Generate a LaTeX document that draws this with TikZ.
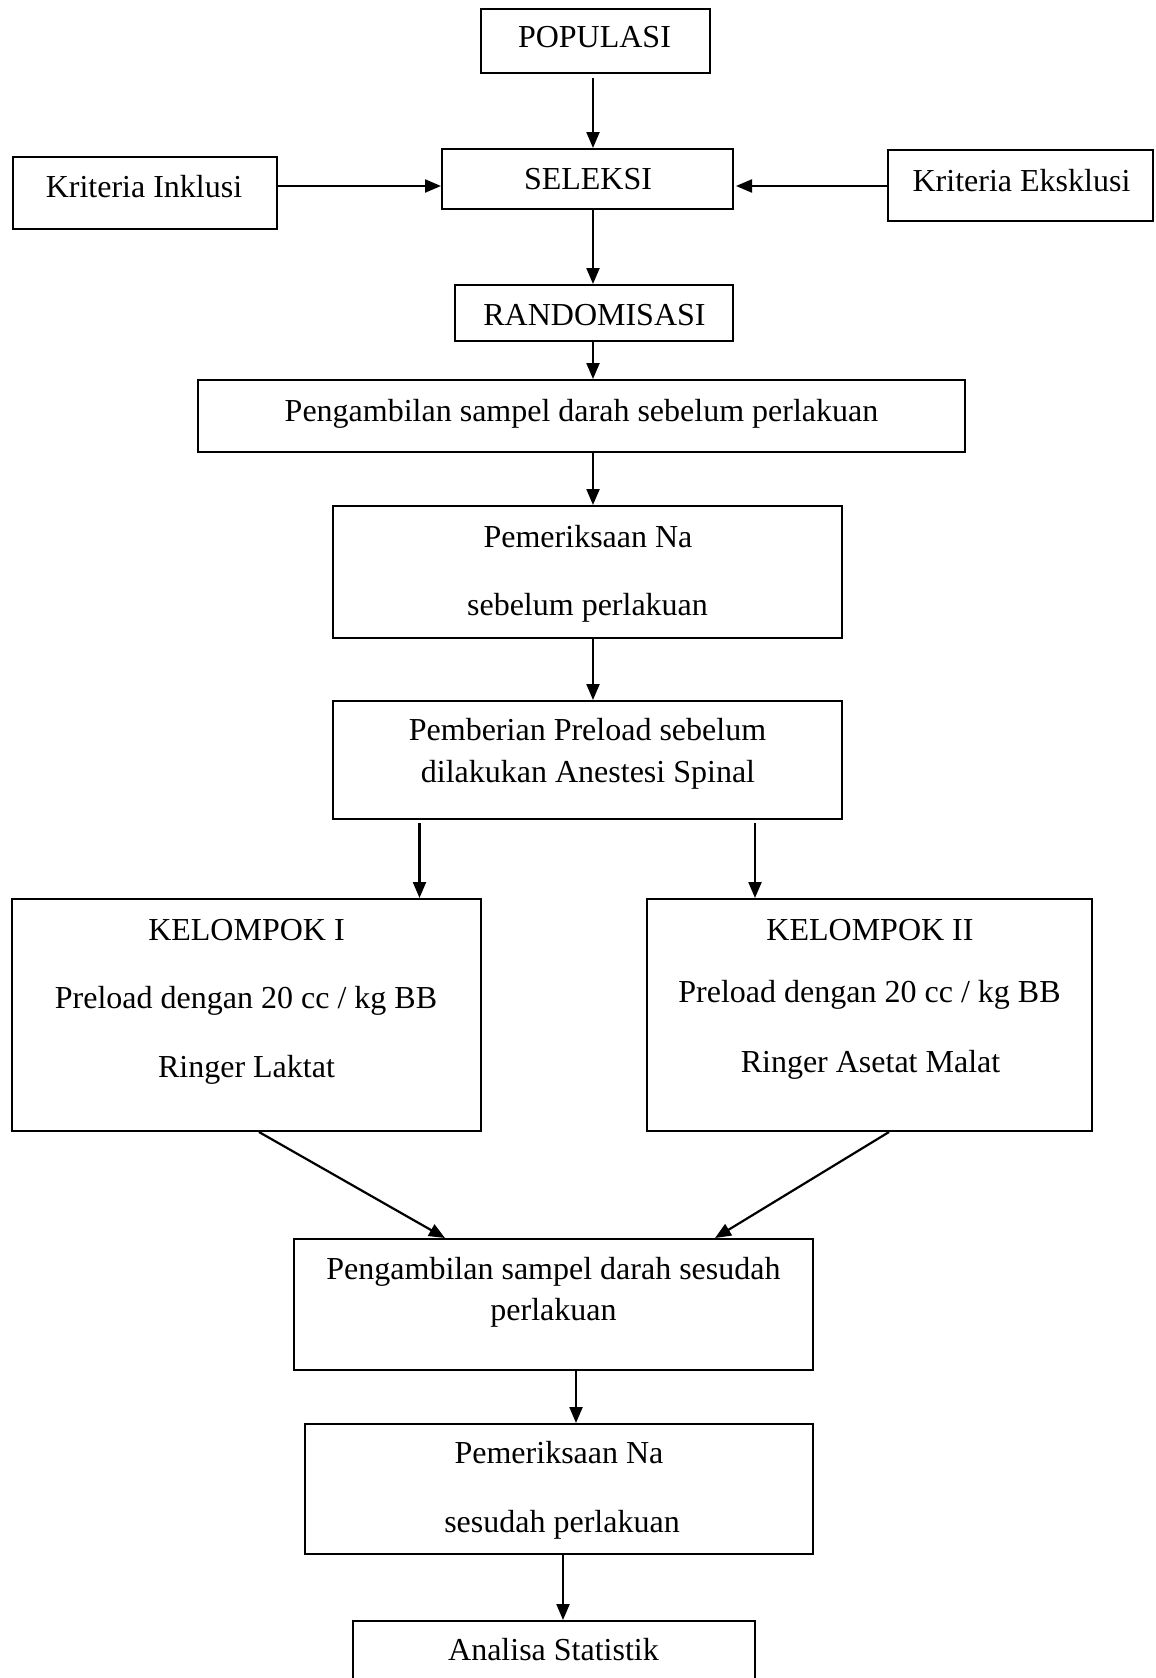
\documentclass[tikz,border=0pt]{standalone}
\usepackage{fontspec}
\setmainfont{Liberation Serif}
\usetikzlibrary{arrows.meta}
\begin{document}
\begin{tikzpicture}[x=1pt,y=-1pt,
  box/.style={draw,line width=2pt,inner sep=0pt,rectangle},
  lbl/.style={anchor=base,inner sep=0pt,font=\fontsize{32}{38}\selectfont},
  arr/.style={line width=2.2pt,-{Triangle[length=16pt,width=13pt]}}]
\clip (0,0) rectangle (1156,1678);
\fill[white] (0,0) rectangle (1156,1678);
% boxes
\node[box,minimum width=229pt,minimum height=64pt] (pop) at (595.5,41) {};
\node[box,minimum width=291pt,minimum height=60pt] (sel) at (587.5,179) {};
\node[box,minimum width=264pt,minimum height=72pt] (inkl) at (144.5,192.5) {};
\node[box,minimum width=265pt,minimum height=71pt] (eks) at (1020.5,185) {};
\node[box,minimum width=278pt,minimum height=56pt] (rand) at (593.5,313) {};
\node[box,minimum width=767pt,minimum height=72pt] (samp1) at (581,416) {};
\node[box,minimum width=509pt,minimum height=132pt] (na1) at (587.5,572) {};
\node[box,minimum width=509pt,minimum height=118pt] (pre) at (587.5,760) {};
\node[box,minimum width=469pt,minimum height=232pt] (k1) at (246.5,1015) {};
\node[box,minimum width=445pt,minimum height=232pt] (k2) at (869.5,1015) {};
\node[box,minimum width=519pt,minimum height=131pt] (samp2) at (553.5,1304.5) {};
\node[box,minimum width=508pt,minimum height=130pt] (na2) at (559,1489) {};
\node[box,minimum width=402pt,minimum height=80pt] (ana) at (554,1661) {};
% texts
\node[lbl] (tpop) at (594.5,48) {POPULASI};
\node[lbl] (tsel) at (588,189) {SELEKSI};
\node[lbl] (tinkl) at (144,197) {Kriteria Inklusi};
\node[lbl] (teks) at (1021.5,191) {Kriteria Eksklusi};
\node[lbl] (trand) at (594.5,325) {RANDOMISASI};
\node[lbl] (tsamp1) at (581.5,421) {Pengambilan sampel darah sebelum perlakuan};
\node[lbl] (tna1a) at (588,547) {Pemeriksaan Na};
\node[lbl] (tna1b) at (587.5,615) {sebelum perlakuan};
\node[lbl] (tprea) at (587.5,740) {Pemberian Preload sebelum};
\node[lbl] (tpreb) at (588,782) {dilakukan Anestesi Spinal};
\node[lbl] (tk1a) at (246.5,940) {KELOMPOK I};
\node[lbl] (tk1b) at (246,1008) {Preload dengan 20 cc / kg BB};
\node[lbl] (tk1c) at (246.5,1077) {Ringer Laktat};
\node[lbl] (tk2a) at (870,940) {KELOMPOK II};
\node[lbl] (tk2b) at (869.5,1002) {Preload dengan 20 cc / kg BB};
\node[lbl] (tk2c) at (870.5,1072) {Ringer Asetat Malat};
\node[lbl] (tsamp2a) at (553.5,1279) {Pengambilan sampel darah sesudah};
\node[lbl] (tsamp2b) at (553.5,1320) {perlakuan};
\node[lbl] (tna2a) at (559,1463) {Pemeriksaan Na};
\node[lbl] (tna2b) at (562,1532) {sesudah perlakuan};
\node[lbl] (tana) at (553.5,1660) {Analisa Statistik};
% guide coordinates
\coordinate (xa) at (593,0);
\coordinate (xb) at (419.5,0);
\coordinate (xc) at (755,0);
\coordinate (xd) at (576,0);
\coordinate (xe) at (563,0);
\coordinate (xf) at (259,0);
\coordinate (xg) at (445,0);
\coordinate (xh) at (889,0);
\coordinate (xi) at (715,0);
\coordinate (yi) at (0,186);
% connectors
\draw[arr] ([yshift=-4pt]pop.south -| xa) -- (sel.north -| xa);
\draw[arr] (inkl.east |- yi) -- (sel.west |- yi);
\draw[arr] (eks.west |- yi) -- ([xshift=2pt]sel.east |- yi);
\draw[arr] (sel.south -| xa) -- (rand.north -| xa);
\draw[arr] (rand.south -| xa) -- (samp1.north -| xa);
\draw[arr] (samp1.south -| xa) -- (na1.north -| xa);
\draw[arr] (na1.south -| xa) -- (pre.north -| xa);
\draw[arr] ([yshift=-3pt]pre.south -| xb) -- (k1.north -| xb);
\draw[arr] ([yshift=-3pt]pre.south -| xc) -- (k2.north -| xc);
\draw[arr] (k1.south -| xf) -- (samp2.north -| xg);
\draw[arr] (k2.south -| xh) -- (samp2.north -| xi);
\draw[arr] (samp2.south -| xd) -- (na2.north -| xd);
\draw[arr] (na2.south -| xe) -- (ana.north -| xe);
\end{tikzpicture}
\end{document}
